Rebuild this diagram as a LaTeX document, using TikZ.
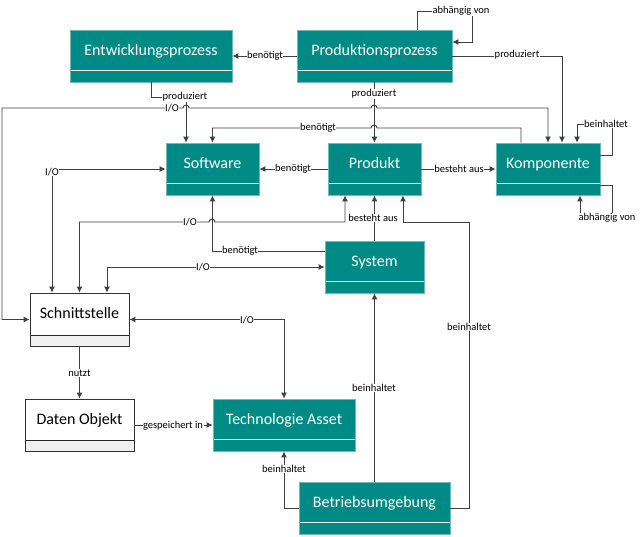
\documentclass[tikz,border=0pt]{standalone}
\usepackage{fontspec}
\setmainfont{Carlito}
\usetikzlibrary{arrows.meta,positioning,calc}
\definecolor{petrol}{HTML}{008A85}
\definecolor{petrolrand}{HTML}{6CBDB8}
\definecolor{linie}{HTML}{404040}
\definecolor{fuss}{HTML}{F0F0F0}
\tikzset{
  >={Latex[length=6pt,width=6pt]},
  con/.style={draw=linie,line width=.9pt},
  % Klasse: Kopf + Fussleiste
  cls/.style={rectangle,fill=petrol,draw=petrolrand,line width=.8pt,text=white,
    font=\fontsize{16}{18}\selectfont,inner sep=0pt,minimum height=52pt,
    text height=11pt,text depth=13pt,
    path picture={\draw[white,line width=1pt]
      ([yshift=12pt]path picture bounding box.south west) --
      ([yshift=12pt]path picture bounding box.south east);}},
  obj/.style={cls,fill=white,draw=black!80,text=black,
    path picture={\fill[fuss] (path picture bounding box.south west) rectangle
      ([yshift=11pt]path picture bounding box.south east);
      \draw[black!85,line width=.9pt]
      ([yshift=11pt]path picture bounding box.south west) --
      ([yshift=11pt]path picture bounding box.south east);}},
  % Beschriftung (weisser Hintergrund)
  lbl/.style={font=\fontsize{10.5}{12}\selectfont,fill=white,inner sep=.5pt}
}

\begin{document}
\begin{tikzpicture}[x=1pt,y=-1pt]
  \useasboundingbox (0,0) rectangle (642,536);

  %--- Klassen
  \node[cls,minimum width=162pt] (entw)  at (151,56)    {Entwicklungsprozess};
  \node[cls,minimum width=155pt] (prodp) at (374.5,56)  {Produktionsprozess};
  \node[cls,minimum width=93pt]  (sw)    at (212.5,169) {Software};
  \node[cls,minimum width=93pt]  (prod)  at (374.5,169) {Produkt};
  \node[cls,minimum width=104pt] (komp)  at (548,169)   {Komponente};
  \node[cls,minimum width=99pt]  (sys)   at (374.5,267) {System};
  \node[obj,minimum width=99pt,minimum height=53pt] (sst) at (79.5,319.5) {Schnittstelle};
  \node[obj,minimum width=109pt] (dat)   at (79.5,425)  {Daten Objekt};
  \node[cls,minimum width=142pt] (tech)  at (284,425)   {Technologie Asset};
  \node[cls,minimum width=151pt] (betr)  at (374.5,508) {Betriebsumgebung};

  %--- Prozesse
  \draw[con,->] (prodp.west) -- (entw.east);
  \draw[con,->] ([xshift=42.5pt]prodp.north) |- (472,11) |- ([yshift=14pt]prodp.east);
  \draw[con,->] (prodp.east) -| ([xshift=14pt]komp.north);
  \draw[con,->] (prodp.south) -- (prod.north);
  \draw[con,->] (entw.south) -- ++(0,15) -| ([xshift=-26.5pt]sw.north);

  %--- I/O oben (mit Sprung)
  \draw[con,<->] (sst.west) -| (2,108) -- (183,108)
    arc[start angle=180,end angle=360,radius=3] -- (371,108)
    arc[start angle=180,end angle=360,radius=3] -| (komp.north);
  \draw[con,->] ([xshift=-27pt]komp.north) |- (377,128)
    arc[start angle=0,end angle=-180,radius=3] -| (sw.north);

  %--- mittlere Reihe
  \draw[con,->] (prod.west) -- (sw.east);
  \draw[con,->] (prod.east) -- (komp.west);
  \draw[con,->] ([yshift=14pt]komp.east) -| (612,124) -| ([xshift=29pt]komp.north);
  \draw[con,->] ([yshift=-16pt]komp.east) -| (612,218) -| ([xshift=32pt]komp.south);

  %--- Schnittstelle / System
  \draw[con,<->] (sw.west) -| ([xshift=-27.5pt]sst.north);
  \draw[con,->] ([yshift=16pt]sys.west) -| (sw.south);
  \draw[con,<->] (sst.north) |- (209,222)
    arc[start angle=180,end angle=360,radius=3] -| ([xshift=-29.5pt]prod.south);
  \draw[con,<->] ([xshift=27.5pt]sst.north) |- (sys.west);
  \draw[con,<->] (sst.east) -| (tech.north);
  \draw[con,->] (sys.north) -- (prod.south);

  %--- unten
  \draw[con,->] (sst.south) -- (dat.north);
  \draw[con,->] (dat.east) -- (tech.west);
  \draw[con,->] (betr.west) -| (tech.south);
  \draw[con,->] (betr.north) -- (sys.south);
  \draw[con,->] (betr.east) -| (469,222) -| ([xshift=28.5pt]prod.south);

  %--- Beschriftungen
  \node[lbl] at (265,56)    {benötigt};
  \node[lbl] at (461,11)    {abhängig von};
  \node[lbl] at (517,55)    {produziert};
  \node[lbl] at (374,94)    {produziert};
  \node[lbl] at (185,97)    {produziert};
  \node[lbl] at (172,108)   {I/O};
  \node[lbl] at (318,128)   {benötigt};
  \node[lbl] at (606,124)   {beinhaltet};
  \node[lbl] at (293,169)   {benötigt};
  \node[lbl] at (459,169)   {besteht aus};
  \node[lbl] at (52,172)    {I/O};
  \node[lbl] at (607,218)   {abhängig von};
  \node[lbl] at (190,222)   {I/O};
  \node[lbl] at (373,218)   {besteht aus};
  \node[lbl] at (240,251)   {benötigt};
  \node[lbl] at (203,267)   {I/O};
  \node[lbl] at (247,320)   {I/O};
  \node[lbl] at (469,327)   {beinhaltet};
  \node[lbl] at (79.5,373)  {nutzt};
  \node[lbl] at (374,388)   {beinhaltet};
  \node[lbl] at (173,426)   {gespeichert in};
  \node[lbl] at (284,469)   {beinhaltet};
\end{tikzpicture}
\end{document}
